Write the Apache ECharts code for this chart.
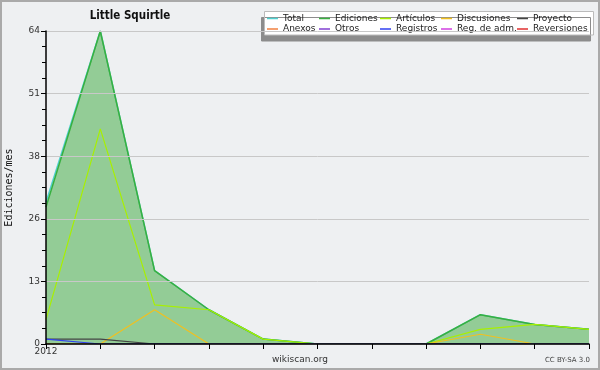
<!DOCTYPE html>
<html><head><meta charset="utf-8">
<script src="https://cdn.jsdelivr.net/npm/echarts@6/dist/echarts.min.js"></script>
<style>html,body{margin:0;padding:0;background:#eef0f2}#c{width:600px;height:370px}</style>
</head><body><div id="c"></div>
<script>
const categories = ['2012','','','','','','','','','',''];
const yTicks = [0, 13, 26, 38, 51, 64];
const total       = [29, 64, 15, 7, 1, 0, 0, 0, 6, 4, 3];
const ediciones   = [28, 64, 15, 7, 1, 0, 0, 0, 6, 4, 3];
const articulos   = [5, 44, 8, 7, 1, 0, 0, 0, 3, 4, 3];
const discusiones = [0, 0, 7, 0, 0, 0, 0, 0, 2, 0, 0];
const proyecto    = [1, 1, 0, 0, 0, 0, 0, 0, 0, 0, 0];
const anexos      = [0, 0, 0, 0, 0, 0, 0, 0, 0, 0, 0];
const otros       = [0, 0, 0, 0, 0, 0, 0, 0, 0, 0, 0];
const registros   = [1, 0, 0, 0, 0, 0, 0, 0, 0, 0, 0];
const regAdm      = [0, 0, 0, 0, 0, 0, 0, 0, 0, 0, 0];
const reversiones = [0, 0, 0, 0, 0, 0, 0, 0, 0, 0, 0];

const F = 'DejaVu Sans';
const chart = echarts.init(document.getElementById('c'), null, {renderer:'canvas'});
function line(name, data, color, z, w, extra) {
  return Object.assign({
    name, type:'line', data, symbol:'none', z,
    lineStyle:{color, width:w}, itemStyle:{color}, animation:false
  }, extra||{});
}
const legendCols = [
  ['Total','Anexos', 267],
  ['Ediciones','Otros', 319],
  ['Artículos','Registros', 380],
  ['Discusiones','Reg. de adm.', 441],
  ['Proyecto','Reversiones', 517]
];
const legends = legendCols.map(c => ({
  data:[c[0], c[1]], orient:'vertical', left:c[2], top:13.5, z:5,
  icon:'rect', itemWidth:11, itemHeight:1.5, itemGap:0.5, padding:0,
  textStyle:{fontFamily:F, fontSize:9, color:'#222', lineHeight:10, padding:[0,0,0,0]},
  selectedMode:false
}));
chart.setOption({
  backgroundColor:'#eef0f2',
  animation:false,
  title:{text:'Little Squirtle', left:125, textAlign:'center', top:5,
    textStyle:{fontFamily:'DejaVu Sans Condensed, DejaVu Sans', fontSize:11.5, fontWeight:'bold', color:'#111'}},
  legend: legends,
  grid:{left:46, right:11, top:31, bottom:26, outerBoundsMode:'none', containLabel:false},
  xAxis:{type:'category', boundaryGap:false, data:categories, z:10,
    axisLine:{lineStyle:{color:'#000', width:1.5}},
    axisTick:{show:true, interval:0, length:5, lineStyle:{color:'#000'}},
    axisLabel:{interval:0, fontFamily:F, fontSize:9, color:'#333', margin:3}},
  yAxis:{type:'value', min:0, max:64, interval:12.8, z:10,
    name:'Ediciones/mes', nameLocation:'middle', nameGap:32,
    nameTextStyle:{fontFamily:'DejaVu Sans Mono', fontSize:10, color:'#111'},
    axisLine:{show:true, lineStyle:{color:'#000', width:1.5}},
    axisTick:{show:true, length:5, lineStyle:{color:'#000'}},
    minorTick:{show:true, splitNumber:4, length:4, lineStyle:{color:'#000'}},
    splitLine:{lineStyle:{color:'#c8c8c8', width:1}},
    axisLabel:{fontFamily:F, fontSize:9, color:'#333', margin:6,
      formatter:v => String(yTicks[Math.round(v/12.8)])}},
  graphic:[
    {type:'rect', shape:{x:1, y:1, width:598, height:368}, style:{fill:'none', stroke:'#aaa', lineWidth:2}, z:100},
    {type:'rect', shape:{x:264.5, y:11.5, width:329, height:23.5},
      style:{fill:'#fff', stroke:'#bbb', lineWidth:1, shadowColor:'#8c8c8c', shadowOffsetX:-3, shadowOffsetY:6, shadowBlur:0}, z:-10},
    {type:'text', left:'center', top:355, style:{text:'wikiscan.org', font:'9px "DejaVu Sans"', fill:'#333'}},
    {type:'text', right:10, top:357, style:{text:'CC BY-SA 3.0', font:'7px "DejaVu Sans"', fill:'#444'}}
  ],
  series:[
    line('Total', total, '#4fd0d0', 2, 1.5),
    line('Ediciones', ediciones, '#38b040', 3, 1.5, {areaStyle:{color:'rgba(56,168,58,0.5)', opacity:1}}),
    line('Artículos', articulos, '#a8f000', 4, 1.2),
    line('Discusiones', discusiones, '#f0c020', 5, 1.2),
    line('Proyecto', proyecto, '#444444', 6, 1.2),
    line('Anexos', anexos, '#f08040', 2, 1),
    line('Otros', otros, '#8040d0', 2, 1),
    line('Registros', registros, '#3040f0', 6, 1.2),
    line('Reg. de adm.', regAdm, '#d040e0', 2, 1),
    line('Reversiones', reversiones, '#e03030', 2, 1)
  ]
});
</script></body></html>
